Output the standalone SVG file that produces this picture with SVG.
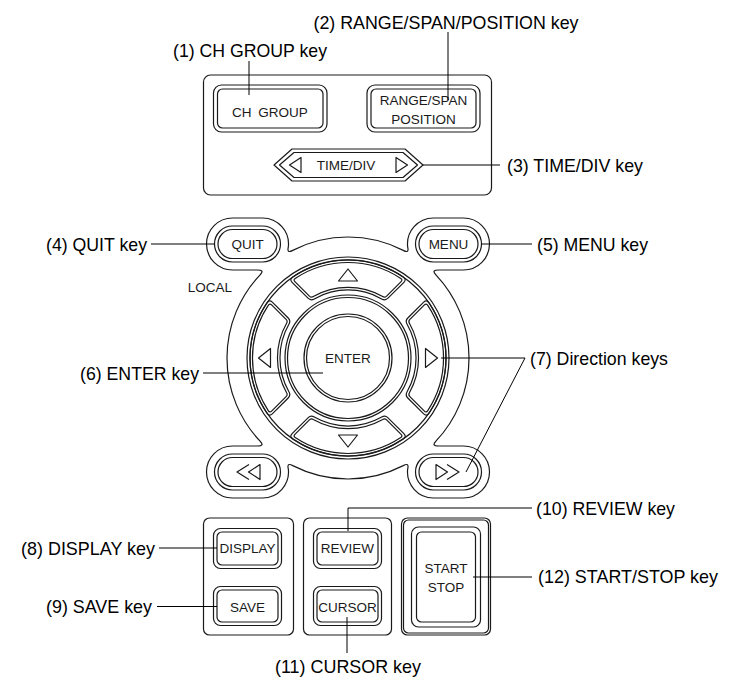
<svg xmlns="http://www.w3.org/2000/svg" xmlns:xlink="http://www.w3.org/1999/xlink" width="730" height="682" viewBox="0 0 730 682">
<style>
.ln{fill:none;stroke:#1a1a1a;stroke-width:1.2;stroke-linejoin:round}
.con{fill:none;stroke:#000;stroke-width:1}
.kt{font-family:"Liberation Sans",Arial,sans-serif;font-size:13.5px;fill:#1a1a1a;text-anchor:middle}
.lbl{font-family:"Liberation Sans",Arial,sans-serif;font-size:18.5px;fill:#000}
</style>
<defs>
<path id="dkey" d="M292.5,277.2 A98,98 0 0 1 403.5,277.2 Q406.7,279.5 403.9,282.3 L388,298.2 Q385.2,301 381.7,298.9 A68,68 0 0 0 314.3,298.9 Q310.8,301 308,298.2 L292.1,282.3 Q289.3,279.5 292.5,277.2 Z"/>
<path id="dkeyin" d="M295.2,278.4 A95.5,95.5 0 0 1 400.8,278.4 Q402.9,279.8 401.1,281.6 L386.6,296.1 Q384.8,297.9 382.7,296.6 A70.5,70.5 0 0 0 313.3,296.6 Q311.2,297.9 309.4,296.1 L294.9,281.6 Q293.1,279.8 295.2,278.4 Z"/>
</defs>
<rect width="730" height="682" fill="#fff"/>

<g id="top-panel">
<rect class="ln" x="203.5" y="75" width="288" height="120" rx="7"/>
</g>
<g id="ch-group-key">
<rect class="ln" x="213.5" y="85" width="113.5" height="47" rx="8"/>
<rect class="ln" x="217.5" y="89" width="105.5" height="39" rx="5"/>
<text class="kt" x="270" y="116.5" word-spacing="3">CH GROUP</text>
</g>
<g id="range-span-key">
<rect class="ln" x="367" y="85" width="113" height="47" rx="8"/>
<rect class="ln" x="371" y="89" width="105" height="39" rx="5"/>
<text class="kt" x="423.5" y="105" font-size="14px">RANGE/SPAN</text>
<text class="kt" x="423.5" y="123.5" font-size="14px">POSITION</text>
</g>
<g id="time-div-key">
<path class="ln" d="M274,165 L292,149 L405,149 L423,165 L405,181 L292,181 Z"/>
<path class="ln" d="M279.5,165 L294,152.5 L403,152.5 L417.5,165 L403,177.5 L294,177.5 Z"/>
<path class="ln" d="M289.5,165 L301,157.5 L301,172.5 Z"/>
<path class="ln" d="M407.5,165 L396,157.5 L396,172.5 Z"/>
<text class="kt" x="346" y="170">TIME/DIV</text>
</g>

<g id="bezel">
<path class="ln" d="M260.13,274.8 Q265.09,269.87 257,270 L232.5,270 A26,26 0 0 1 232.5,218 L262.5,218 A26,26 0 0 1 288.33,246.99 Q286.61,253.73 292.73,250.36 A121,121 0 0 1 403.27,250.36 Q409.39,253.73 407.67,246.99 A26,26 0 0 1 433.5,218 L463.5,218 A26,26 0 0 1 463.5,270 L439,270 Q430.91,269.87 435.87,274.8 A121,121 0 0 1 435.87,441.2 Q430.91,446.13 439,446 L463.5,446 A26,26 0 0 1 463.5,498 L433.5,498 A26,26 0 0 1 407.67,469.01 Q409.39,462.27 403.27,465.64 A121,121 0 0 1 292.73,465.64 Q286.61,462.27 288.33,469.01 A26,26 0 0 1 262.5,498 L232.5,498 A26,26 0 0 1 232.5,446 L257,446 Q265.09,446.13 260.13,441.2 A121,121 0 0 1 260.13,274.8 Z"/>
<text class="kt" x="210" y="292" font-size="13px">LOCAL</text>
</g>
<g id="quit-key">
<rect class="ln" x="214.5" y="226" width="66" height="36" rx="18"/>
<rect class="ln" x="218" y="229.5" width="59" height="29" rx="14.5"/>
<text class="kt" x="247.5" y="249">QUIT</text>
</g>
<g id="menu-key">
<rect class="ln" x="415.5" y="226" width="66" height="36" rx="18"/>
<rect class="ln" x="419" y="229.5" width="59" height="29" rx="14.5"/>
<text class="kt" x="448.5" y="249">MENU</text>
</g>
<g id="rewind-key">
<rect class="ln" x="214.5" y="454" width="66" height="36" rx="18"/>
<rect class="ln" x="218" y="457.5" width="59" height="29" rx="14.5"/>
<path class="ln" d="M249,464.5 L237,472 L249,479.5 M260,464.5 L248.5,472 L260,479.5 Z"/>
</g>
<g id="forward-key">
<rect class="ln" x="415.5" y="454" width="66" height="36" rx="18"/>
<rect class="ln" x="419" y="457.5" width="59" height="29" rx="14.5"/>
<path class="ln" d="M436,464.5 L447.5,472 L436,479.5 Z M447,464.5 L459,472 L447,479.5"/>
</g>
<g id="direction-keys">
<circle class="ln" cx="348" cy="358" r="101"/>
<circle class="ln" cx="348" cy="358" r="98"/>
<use href="#dkey" class="ln"/>
<use href="#dkeyin" class="ln"/>
<use href="#dkey" class="ln" transform="rotate(90 348 358)"/>
<use href="#dkeyin" class="ln" transform="rotate(90 348 358)"/>
<use href="#dkey" class="ln" transform="rotate(180 348 358)"/>
<use href="#dkeyin" class="ln" transform="rotate(180 348 358)"/>
<use href="#dkey" class="ln" transform="rotate(270 348 358)"/>
<use href="#dkeyin" class="ln" transform="rotate(270 348 358)"/>
<circle class="ln" cx="348" cy="358" r="63"/>
<circle class="ln" cx="348" cy="358" r="60.5"/>
<path class="ln" d="M348,269 L338.5,281 L357.5,281 Z"/>
<path class="ln" d="M348,447 L338.5,435 L357.5,435 Z"/>
<path class="ln" d="M258.5,358 L270.5,348.5 L270.5,367.5 Z"/>
<path class="ln" d="M437.5,358 L425.5,348.5 L425.5,367.5 Z"/>
</g>
<g id="enter-key">
<circle class="ln" cx="348" cy="358" r="44"/>
<circle class="ln" cx="348" cy="358" r="41.5"/>
<text class="kt" x="348" y="363" font-size="14.5px">ENTER</text>
</g>

<g id="display-save-panel">
<rect class="ln" x="203.5" y="518" width="90" height="117" rx="6"/>
</g>
<g id="display-key">
<rect class="ln" x="213.5" y="528.5" width="68" height="40" rx="7"/>
<rect class="ln" x="217" y="532" width="61" height="33" rx="5"/>
<text class="kt" x="247.5" y="553" font-size="13px">DISPLAY</text>
</g>
<g id="save-key">
<rect class="ln" x="213.5" y="586.5" width="68" height="39" rx="7"/>
<rect class="ln" x="217" y="590" width="61" height="32" rx="5"/>
<text class="kt" x="247.5" y="611.5">SAVE</text>
</g>
<g id="review-cursor-panel">
<rect class="ln" x="303.5" y="518" width="88" height="117" rx="6"/>
</g>
<g id="review-key">
<rect class="ln" x="313.5" y="528.5" width="68" height="40" rx="7"/>
<rect class="ln" x="317" y="532" width="61" height="33" rx="5"/>
<text class="kt" x="347.5" y="553">REVIEW</text>
</g>
<g id="cursor-key">
<rect class="ln" x="313.5" y="586.5" width="68" height="39" rx="7"/>
<rect class="ln" x="317" y="590" width="61" height="32" rx="5"/>
<text class="kt" x="347.5" y="611.5" font-size="13px">CURSOR</text>
</g>
<g id="start-stop-key">
<rect class="ln" x="401.5" y="518" width="89" height="117" rx="6"/>
<rect class="ln" x="403.5" y="520" width="85" height="113" rx="5"/>
<rect class="ln" x="411.5" y="527" width="69" height="100" rx="7"/>
<rect class="ln" x="416.5" y="532" width="59" height="90" rx="5"/>
<text class="kt" x="446" y="573">START</text>
<text class="kt" x="446" y="591.5">STOP</text>
</g>

<g id="connectors">
<path class="con" d="M249,61 V95"/>
<path class="con" d="M448,32 V100"/>
<path class="con" d="M423,165 H500"/>
<path class="con" d="M151,244 H214.5"/>
<path class="con" d="M481.5,244 H532"/>
<path class="con" d="M203,373 H323"/>
<path class="con" d="M441,358 H525 L466,472"/>
<path class="con" d="M159,548 H217"/>
<path class="con" d="M157,606.5 H217"/>
<path class="con" d="M348,531 V508 H532"/>
<path class="con" d="M347,617 V653"/>
<path class="con" d="M473,577 H532"/>
</g>

<g id="labels">
<text class="lbl" x="250" y="57" text-anchor="middle" textLength="154" lengthAdjust="spacingAndGlyphs">(1) CH GROUP key</text>
<text class="lbl" x="446" y="29" text-anchor="middle" textLength="265" lengthAdjust="spacingAndGlyphs">(2) RANGE/SPAN/POSITION key</text>
<text class="lbl" x="507" y="172" textLength="136" lengthAdjust="spacingAndGlyphs">(3) TIME/DIV key</text>
<text class="lbl" x="46" y="250.5" textLength="101" lengthAdjust="spacingAndGlyphs">(4) QUIT key</text>
<text class="lbl" x="537" y="250.5" textLength="111" lengthAdjust="spacingAndGlyphs">(5) MENU key</text>
<text class="lbl" x="80" y="379.5" textLength="119" lengthAdjust="spacingAndGlyphs">(6) ENTER key</text>
<text class="lbl" x="530" y="364.5" textLength="138" lengthAdjust="spacingAndGlyphs">(7) Direction keys</text>
<text class="lbl" x="21" y="554.5" textLength="134" lengthAdjust="spacingAndGlyphs">(8) DISPLAY key</text>
<text class="lbl" x="46" y="613" textLength="106" lengthAdjust="spacingAndGlyphs">(9) SAVE key</text>
<text class="lbl" x="536" y="514.5" textLength="139" lengthAdjust="spacingAndGlyphs">(10) REVIEW key</text>
<text class="lbl" x="348" y="673" text-anchor="middle" textLength="146" lengthAdjust="spacingAndGlyphs">(11) CURSOR key</text>
<text class="lbl" x="538" y="583" textLength="180" lengthAdjust="spacingAndGlyphs">(12) START/STOP key</text>
</g>
</svg>
